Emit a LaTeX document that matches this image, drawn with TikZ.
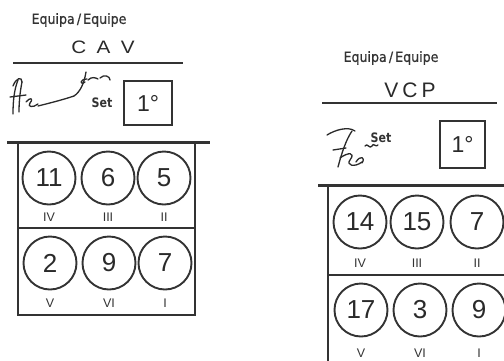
\documentclass[tikz,border=0pt]{standalone}
\usepackage{fontspec}
\setmainfont{DejaVu Sans}
\newfontfamily\headfont[FakeBold=0.8]{DejaVu Sans}
\newfontfamily\handfont{Liberation Sans}
\definecolor{ink}{HTML}{333333}
\definecolor{pen}{HTML}{2A2A2A}
\begin{document}
\begin{tikzpicture}[x=1pt,y=-1pt,
  heading/.style={font=\headfont\fontsize{14}{16}\selectfont, text=ink, inner sep=0, xscale=0.9},
  team/.style={font=\handfont\fontsize{18}{20}\selectfont, text=pen, inner sep=0},
  setlabel/.style={font=\bfseries\fontsize{13}{15}\selectfont, text=ink, inner sep=0, xscale=0.85},
  setbox/.style={draw=ink, line width=1.4pt, inner sep=0, font=\handfont\fontsize{23}{25}\selectfont, text=pen},
  player/.style={circle, draw=ink, line width=1.9pt, minimum size=53pt, inner sep=0, font=\handfont\fontsize{26}{28}\selectfont, text=pen},
  zone/.style={font=\handfont\fontsize{12.5}{14}\selectfont, text=ink, inner sep=0},
  rulebar/.style={draw=ink, line width=1.5pt},
  topbar/.style={draw=ink, line width=3pt},
  court/.style={draw=ink, line width=2.4pt},
  sign/.style={draw=pen, line width=1.3pt, line cap=round, line join=round}
]
\useasboundingbox[fill=white] (0,0) rectangle (504,360);

% ---------------- left sheet ----------------
\node[heading] (eqL) at (79,20) {Equipa\,/\,Equipe};
\node[team, xscale=1.15] (teamL) at (103,47.5) {C\hspace{9pt}A\hspace{9pt}V};
\draw[rulebar] (13,63) -- (183,63);
% signature
\draw[sign] (18,80) .. controls (14,90) and (13,102) .. (13,114);
\draw[sign] (13,86) .. controls (16,78) and (22,76) .. (22,82);
\draw[sign] (22,82) .. controls (20,92) and (19,102) .. (19,112);
\draw[sign] (10,97) -- (26,95);
\draw[sign] (26,102) .. controls (30,97) and (34,98) .. (30,103) .. controls (27,107) and (33,108) .. (38,104);
\draw[sign] (38,106) .. controls (50,103) and (62,100) .. (74,96);
\draw[sign] (74,96) .. controls (80,92) and (84,84) .. (86,72);
\draw[sign] (85,82) .. controls (80,86) and (79,79) .. (87,79);
\draw[sign] (88,80) .. controls (92,76) and (96,78) .. (98,79);
\draw[sign] (100,78) .. controls (104,74) and (110,76) .. (110,80);
\node[setlabel] (setL) at (102,102.5) {Set};
\node[setbox, minimum width=48pt, minimum height=44pt] (boxL) at (148,103) {1°};
\draw[topbar] (7,142) -- (210,142);
\draw[court] (18,142) -- (18,315) -- (195,315) -- (195,142);
\draw[court] (18,228) -- (195,228);
\node[player] (L4) at (49,178) {11};
\node[player] (L3) at (108,178) {6};
\node[player] (L2) at (164,178) {5};
\node[player] (L5) at (50,263) {2};
\node[player] (L6) at (109,263) {9};
\node[player] (L1) at (165,263) {7};
\node[zone] (zL4) at (49,217) {IV};
\node[zone] (zL3) at (108,217) {III};
\node[zone] (zL2) at (164,217) {II};
\node[zone] (zL5) at (50,303) {V};
\node[zone] (zL6) at (109,303) {VI};
\node[zone] (zL1) at (165,303) {I};

% ---------------- right sheet ----------------
\node[heading] (eqR) at (391,58) {Equipa\,/\,Equipe};
\node[team, font=\handfont\fontsize{21}{23}\selectfont] (teamR) at (410,90) {V\hspace{4pt}C\hspace{4pt}P};
\draw[rulebar] (322,103) -- (497,103);
% signature
\draw[sign] (327,135) .. controls (335,130) and (348,126) .. (355,131);
\draw[sign] (352,131) .. controls (346,140) and (342,152) .. (338,167);
\draw[sign] (333,150) -- (346,148);
\draw[sign] (340,158) .. controls (348,152) and (356,152) .. (350,160) .. controls (346,165) and (354,168) .. (362,162);
\draw[sign] (356,162) .. controls (360,155) and (366,157) .. (362,163);
\draw[sign] (365,146) .. controls (367,142) and (370,150) .. (372,146) .. controls (373,142) and (376,148) .. (378,145);
\node[setlabel] (setR) at (381,138) {Set};
\node[setbox, minimum width=45pt, minimum height=47pt] (boxR) at (462.5,144.5) {1°};
\draw[topbar] (318,185) -- (510,185);
\draw[court] (328,185) -- (328,370);
\draw[court] (328,275) -- (510,275);
\node[player] (R4) at (360,222) {14};
\node[player] (R3) at (417,222) {15};
\node[player] (R2) at (477,222) {7};
\node[player] (R5) at (361,310) {17};
\node[player] (R6) at (420,310) {3};
\node[player] (R1) at (479,310) {9};
\node[zone] (zR4) at (360,263) {IV};
\node[zone] (zR3) at (417,263) {III};
\node[zone] (zR2) at (477,263) {II};
\node[zone] (zR5) at (361,353) {V};
\node[zone] (zR6) at (420,353) {VI};
\node[zone] (zR1) at (479,353) {I};
\end{tikzpicture}
\end{document}
